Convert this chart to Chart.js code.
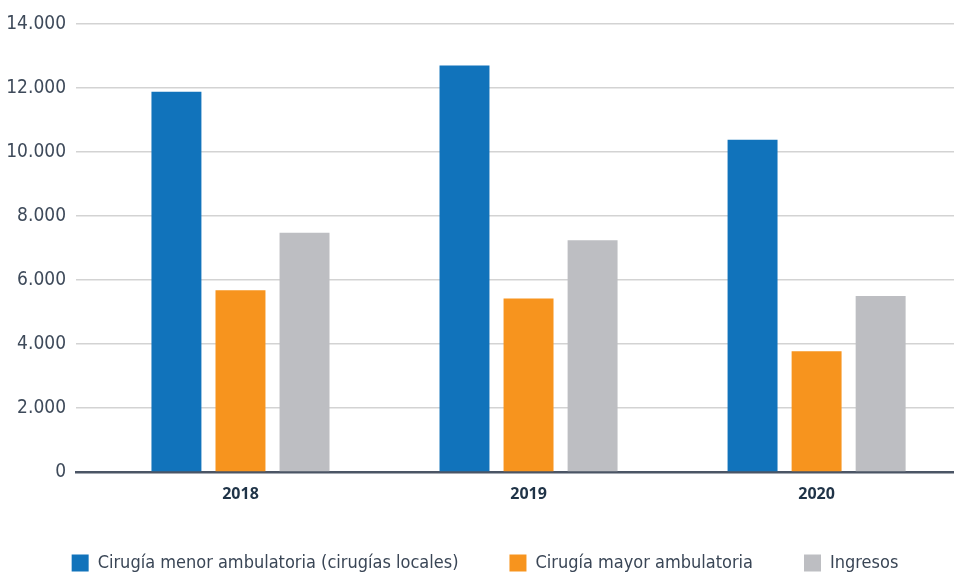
<!DOCTYPE html>
<html>
<head>
<meta charset="utf-8">
<script src="https://cdn.jsdelivr.net/npm/chart.js@4"></script>
<style>
  html, body { margin: 0; padding: 0; background: #ffffff; overflow: hidden; }
  #wrap { width: 954px; height: 575px; }
</style>
</head>
<body>
<div id="wrap"><canvas id="surgeryChart"></canvas></div>
<script>
// activity per year
const years = ["2018", "2019", "2020"];
const seriesNames = [
    "Cirugía menor ambulatoria (cirugías locales)",
    "Cirugía mayor ambulatoria",
    "Ingresos"
];
const cirugiaMenor = [11880, 12700, 10380];
const cirugiaMayor = [5680, 5420, 3770];
const ingresos = [7480, 7240, 5500];
const yTicks = [0, 2000, 4000, 6000, 8000, 10000, 12000, 14000];

const colors = ["#1173bb", "#f7941e", "#bdbec2"];
const textFont = "'Liberation Sans Narrow', 'DejaVu Sans Condensed', 'Open Sans', sans-serif";

// years sit on a numeric x axis so the groups can be placed off-centre
function toPoints(values) {
    return values.map((v, i) => ({ x: i, y: v }));
}

function fmtThousands(v) {
    return String(v).replace(/\B(?=(\d{3})+(?!\d))/g, ".");
}

// tighten the legend box and shift its row a bit to the right
const legendNudge = {
    id: "legendNudge",
    beforeInit(chart) {
        const fit = chart.legend.fit;
        chart.legend.fit = function () {
            fit.call(this);
            this.height -= 7;
        };
    },
    afterLayout(chart) {
        chart.legend.left += 8;
        chart.legend.right += 8;
    }
};

const ctx = document.getElementById("surgeryChart").getContext("2d");

new Chart(ctx, {
    type: "bar",
    data: {
        datasets: [cirugiaMenor, cirugiaMayor, ingresos].map((vals, k) => ({
            label: seriesNames[k],
            data: toPoints(vals),
            backgroundColor: colors[k],
            borderWidth: 0,
            barPercentage: 0.78,
            categoryPercentage: 0.667
        }))
    },
    options: {
        responsive: true,
        maintainAspectRatio: false,
        animation: false,
        layout: { padding: { top: 24, right: 0, bottom: 0, left: 0 } },
        plugins: {
            legend: {
                display: true,
                position: "bottom",
                labels: {
                    color: "#3a4656",
                    boxWidth: 17,
                    boxHeight: 17,
                    padding: 51,
                    font: { family: textFont, size: 18 }
                }
            },
            tooltip: { enabled: false }
        },
        scales: {
            x: {
                type: "linear",
                offset: false,
                bounds: "data",
                min: -0.571,
                max: 2.477,
                afterBuildTicks: scale => {
                    scale.ticks = years.map((y, i) => ({ value: i }));
                },
                afterFit: scale => { scale.height = 31; },
                ticks: {
                    color: "#1f3347",
                    padding: 5,
                    maxRotation: 0,
                    font: { family: "'Open Sans', sans-serif", size: 16, weight: "bold" },
                    callback: v => years[v]
                },
                grid: { display: false },
                border: { display: true, color: "#4b5565", width: 2.5 }
            },
            y: {
                min: 0,
                max: 14000,
                afterBuildTicks: scale => {
                    scale.ticks = yTicks.map(v => ({ value: v }));
                },
                afterFit: scale => { scale.width = 76; },
                ticks: {
                    color: "#3e4a5a",
                    padding: 10,
                    font: { family: textFont, size: 19 },
                    callback: v => fmtThousands(v)
                },
                grid: { color: "#d3d3d3", lineWidth: 1.5, drawTicks: false },
                border: { display: false }
            }
        }
    },
    plugins: [legendNudge]
});
</script>
</body>
</html>
